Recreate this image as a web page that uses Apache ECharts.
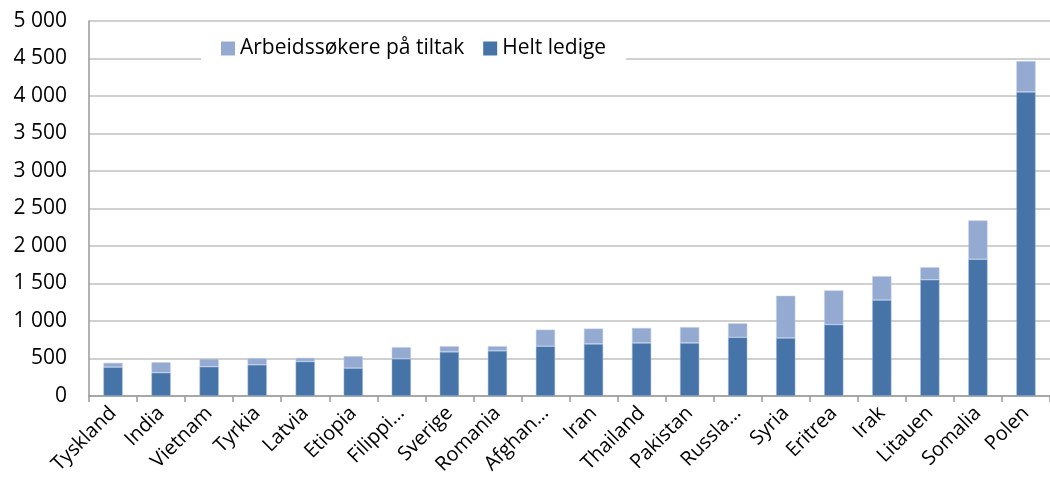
<!DOCTYPE html>
<html>
<head>
<meta charset="utf-8">
<script src="https://cdn.jsdelivr.net/npm/echarts@6/dist/echarts.min.js"></script>
<style>
  html, body { margin: 0; padding: 0; background: #fff; }
  #chart { width: 1050px; height: 479px; }
</style>
</head>
<body>
<div id="chart"></div>
<script>
  // kategorier og verdier lest av figuren
  var land = ['Tyskland', 'India', 'Vietnam', 'Tyrkia', 'Latvia', 'Etiopia', 'Filippi\u2026', 'Sverige', 'Romania', 'Afghan\u2026',
    'Iran', 'Thailand', 'Pakistan', 'Russla\u2026', 'Syria', 'Eritrea', 'Irak', 'Litauen', 'Somalia', 'Polen'];
  var heltLedige = [385, 310, 390, 416, 460, 372, 496, 588, 602, 664, 695, 708, 708, 783, 774, 952, 1279, 1549, 1824, 4054];
  var paaTiltak = [57, 141, 106, 89, 49, 160, 155, 76, 62, 221, 204, 199, 210, 186, 563, 456, 319, 168, 517, 412];
  var yTicks = [0, 500, 1000, 1500, 2000, 2500, 3000, 3500, 4000, 4500, 5000];

  var font = 'Open Sans';
  var chart = echarts.init(document.getElementById('chart'));

  function tusen(v) {
    return String(v).replace(/\B(?=(\d{3})+(?!\d))/g, ' ');
  }

  var option = {
    animation: false,
    textStyle: { fontFamily: font },
    grid: { left: 89, top: 21, width: 968, bottom: 83, containLabel: false },
    legend: {
      data: ['Arbeidssøkere på tiltak', 'Helt ledige'],
      left: 201,
      top: 30,
      padding: [8, 20, 8, 20],
      backgroundColor: '#fff',
      icon: 'rect',
      itemWidth: 14,
      itemHeight: 14,
      itemGap: 19,
      itemStyle: { borderWidth: 0 },
      textStyle: { fontFamily: font, fontSize: 21, color: '#000' }
    },
    xAxis: {
      type: 'category',
      data: land,
      axisLine: { lineStyle: { color: '#999', width: 1.5 } },
      axisTick: { show: true, length: 6, lineStyle: { color: '#999', width: 1.5 } },
      axisLabel: { rotate: 45, interval: 0, margin: 14, fontFamily: font, fontSize: 20, color: '#000' }
    },
    yAxis: {
      type: 'value',
      min: yTicks[0],
      max: yTicks[yTicks.length - 1],
      interval: yTicks[1] - yTicks[0],
      axisLine: { show: true, lineStyle: { color: '#999', width: 1.5 } },
      axisTick: { show: false },
      splitLine: { lineStyle: { color: '#c0c0c0', width: 1.5 } },
      axisLabel: { margin: 22, fontFamily: font, fontSize: 21, color: '#000', formatter: tusen }
    },
    series: [
      {
        name: 'Helt ledige',
        type: 'bar',
        stack: 'tot',
        barCategoryGap: '60%',
        itemStyle: { color: '#4674a8', borderColor: '#a9bfdc', borderWidth: 0.5 },
        data: heltLedige
      },
      {
        name: 'Arbeidssøkere på tiltak',
        type: 'bar',
        stack: 'tot',
        barCategoryGap: '60%',
        itemStyle: { color: '#95aad1', borderColor: '#c6d3ea', borderWidth: 0.5 },
        data: paaTiltak
      }
    ]
  };
  chart.setOption(option);
</script>
</body>
</html>
